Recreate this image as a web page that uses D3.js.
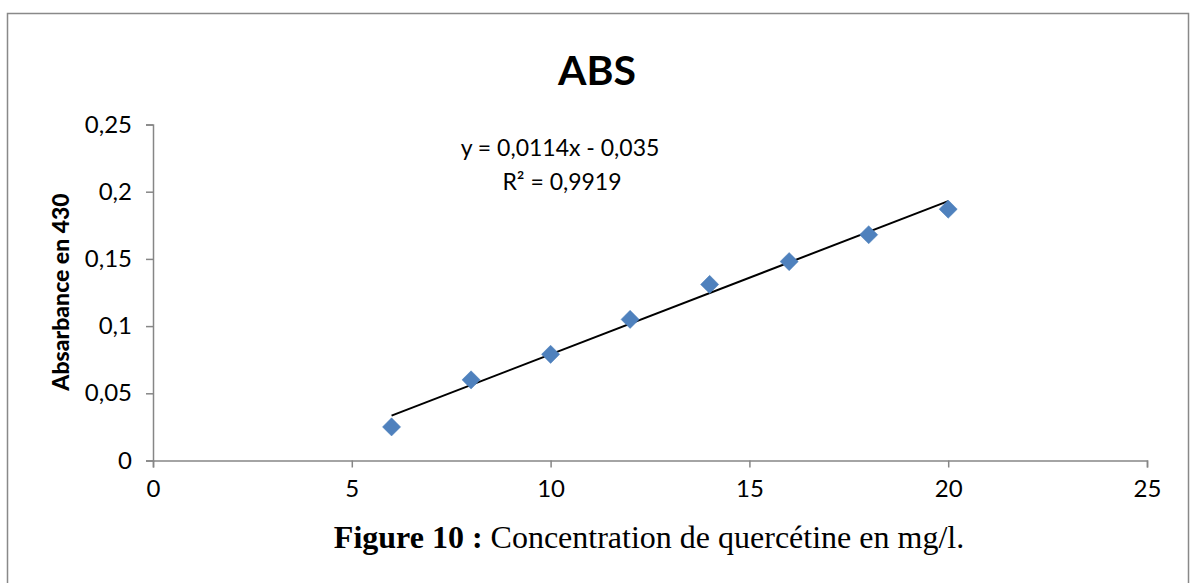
<!DOCTYPE html>
<html lang="fr">
<head>
  <meta charset="UTF-8">
  <title>ABS</title>
  <script src="https://d3js.org/d3.v7.min.js"></script>
  <style>
    body { margin: 0; background: #fff; }
    svg { display: block; }
    .axis path, .axis line { stroke: #868686; stroke-width: 1.5; }
    .axis text { font-family: Lato, "Open Sans", sans-serif; font-size: 24px; fill: #000; }
  </style>
</head>
<body>
  <svg width="1192" height="583"></svg>
  <script>
    // data
    const concentrations = [6, 8, 10, 12, 14, 16, 18, 20];
    const absorbance = [0.025, 0.060, 0.079, 0.105, 0.131, 0.148, 0.168, 0.187];
    const xTicks = [0, 5, 10, 15, 20, 25];
    const yTicks = [0, 0.05, 0.1, 0.15, 0.2, 0.25];
    const slope = 0.0114, intercept = -0.035, r2 = "0,9919";

    const svg = d3.select("svg");
    const fmt = v => String(v).replace(".", ",");

    // outer frame
    svg.append("rect")
      .attr("x", 7.5).attr("y", 13.5)
      .attr("width", 1181).attr("height", 580)
      .attr("fill", "none").attr("stroke", "#898989").attr("stroke-width", 1.5);

    const x = d3.scaleLinear().domain([0, 25]).range([153, 1147]);
    const y = d3.scaleLinear().domain([0, 0.25]).range([460.5, 124.5]);

    svg.append("g")
      .attr("class", "axis")
      .attr("transform", "translate(0,460.5)")
      .call(d3.axisBottom(x).tickValues(xTicks).tickSize(7).tickSizeOuter(7).tickPadding(12).tickFormat(fmt));

    svg.append("g")
      .attr("class", "axis")
      .attr("transform", "translate(153,0)")
      .call(d3.axisLeft(y).tickValues(yTicks).tickSize(7).tickSizeOuter(7).tickPadding(14).tickFormat(fmt));

    // trendline from the equation
    const xr = d3.extent(concentrations);
    svg.append("line")
      .attr("x1", x(xr[0])).attr("y1", y(slope * xr[0] + intercept))
      .attr("x2", x(xr[1])).attr("y2", y(slope * xr[1] + intercept))
      .attr("stroke", "#000").attr("stroke-width", 2);

    // diamond markers
    svg.selectAll(".pt")
      .data(concentrations)
      .enter()
      .append("path")
      .attr("class", "pt")
      .attr("d", d3.symbol(d3.symbolDiamond2, 210)())
      .attr("transform", (d, i) => `translate(${x(d)},${y(absorbance[i])})`)
      .attr("fill", "#4f81bd")
      .attr("stroke", "#4a7ebb")
      .attr("stroke-width", 0.5);

    // title
    svg.append("text")
      .attr("x", 597).attr("y", 85)
      .attr("text-anchor", "middle")
      .attr("font-family", "Lato, 'Open Sans', sans-serif")
      .attr("font-weight", "bold").attr("font-size", 41)
      .text("ABS");

    // equation label
    const eq = svg.append("text")
      .attr("text-anchor", "middle")
      .attr("font-family", "Lato, 'Open Sans', sans-serif")
      .attr("font-size", 23);
    eq.append("tspan").attr("x", 560).attr("y", 156).text("y = 0,0114x - 0,035");
    eq.append("tspan").attr("x", 562).attr("y", 190).text("R² = " + r2);

    // y-axis title
    svg.append("text")
      .attr("transform", "translate(69,292) rotate(-90)")
      .attr("text-anchor", "middle")
      .attr("font-family", "Lato, 'Open Sans', sans-serif")
      .attr("font-weight", 900).attr("font-size", 23)
      .text("Absarbance en 430");

    // caption
    const cap = svg.append("text")
      .attr("x", 649).attr("y", 548)
      .attr("text-anchor", "middle")
      .attr("font-family", "'Liberation Serif', 'Times New Roman', serif")
      .attr("font-size", 32);
    cap.append("tspan").attr("font-weight", "bold").text("Figure 10 :");
    cap.append("tspan").text(" Concentration de quercétine en mg/l.");
  </script>
</body>
</html>
